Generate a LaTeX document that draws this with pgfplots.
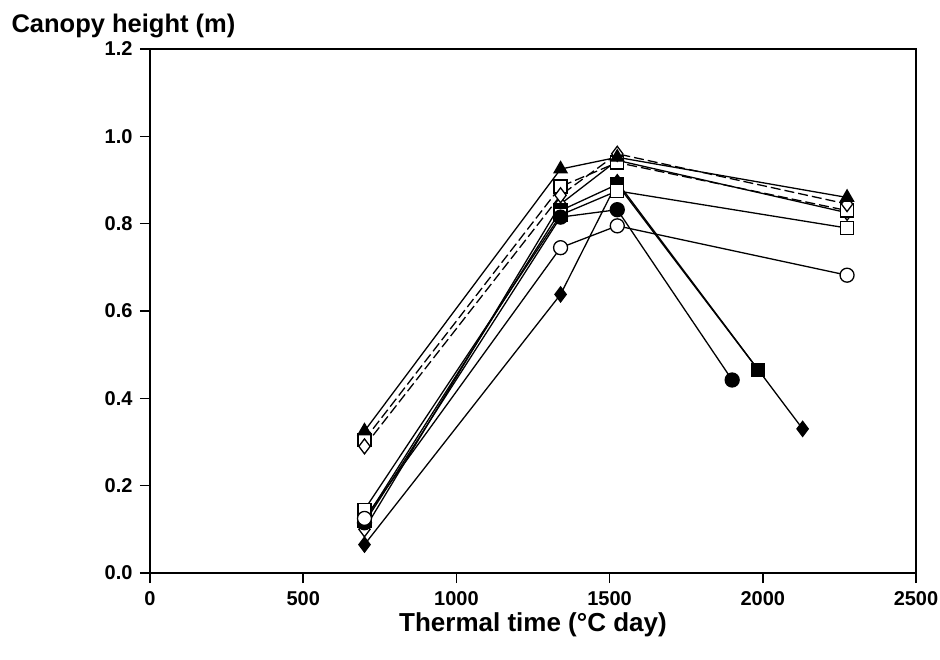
\documentclass[border=0pt]{standalone}
\usepackage{pgfplots}
\pgfplotsset{compat=1.18}
\usepackage{fontspec}
\setmainfont{Liberation Sans}
\begin{document}
\begin{tikzpicture}
\useasboundingbox (-150pt,-86pt) rectangle (790pt,573pt);
\begin{axis}[
  at={(0,0)}, anchor=south west,
  scale only axis, width=766pt, height=524pt,
  xmin=0, xmax=2500, ymin=0, ymax=1.2,
  xtick={0,500,...,2500}, ytick={0,0.2,0.4,0.6,0.8,1.0,1.2},
  tick align=outside, tick pos=left, major tick length=10pt,
  axis line style={line width=1.6pt}, every tick/.style={line width=1.4pt, black},
  /pgf/number format/assume math mode=true,
  x tick label style={/pgf/number format/1000 sep={}, font=\bfseries\fontsize{20}{23}\selectfont, yshift=-5pt},
  y tick label style={/pgf/number format/fixed, /pgf/number format/fixed zerofill, /pgf/number format/precision=1, font=\bfseries\fontsize{20}{23}\selectfont, xshift=-4pt},
  xlabel={Thermal time (°C day)},
  xlabel style={font=\bfseries\fontsize{26}{30}\selectfont, at={(axis description cs:0.5,0)}, anchor=center, yshift=-52pt},
  title={Canopy height (m)},
  title style={font=\bfseries\fontsize{25.5}{29}\selectfont, at={(axis description cs:0,1)}, anchor=west, xshift=-142pt, yshift=17pt},
  every axis plot/.append style={line width=1.3pt, black},
  clip=false,
]
% open diamond, solid
\addplot[mark=diamond*, mark size=7.5pt, mark options={fill=white, solid}] coordinates {(700,0.10) (1340,0.845) (1525,0.945) (2275,0.825)};
% open square, dashed
\addplot[dash pattern=on 10pt off 4pt, mark=square*, mark size=6.5pt, mark options={fill=white, solid}] coordinates {(700,0.305) (1340,0.885) (1525,0.94) (2275,0.83)};
% open diamond, dashed
\addplot[dash pattern=on 10pt off 4pt, mark=diamond*, mark size=7.5pt, mark options={fill=white, solid}] coordinates {(700,0.29) (1340,0.865) (1525,0.96) (2275,0.845)};
% filled triangle
\addplot[mark=triangle*, mark size=7.5pt, mark options={fill=black}] coordinates {(700,0.325) (1340,0.925) (1525,0.952) (2275,0.86)};
% filled square
\addplot[mark=square*, mark size=6.5pt, mark options={fill=black}] coordinates {(700,0.12) (1340,0.83) (1525,0.89) (1985,0.465)};
% filled diamond
\addplot[mark=diamond*, mark size=7.5pt, mark options={fill=black}] coordinates {(700,0.065) (1340,0.638) (1525,0.895) (2130,0.33)};
% open square, solid
\addplot[mark=square*, mark size=6.5pt, mark options={fill=white}] coordinates {(700,0.145) (1340,0.82) (1525,0.875) (2275,0.79)};
% filled circle
\addplot[mark=*, mark size=7pt, mark options={fill=black}] coordinates {(700,0.115) (1340,0.815) (1525,0.832) (1900,0.442)};
% open circle
\addplot[mark=*, mark size=7pt, mark options={fill=white}] coordinates {(700,0.125) (1340,0.745) (1525,0.795) (2275,0.682)};
\end{axis}
\end{tikzpicture}
\end{document}
